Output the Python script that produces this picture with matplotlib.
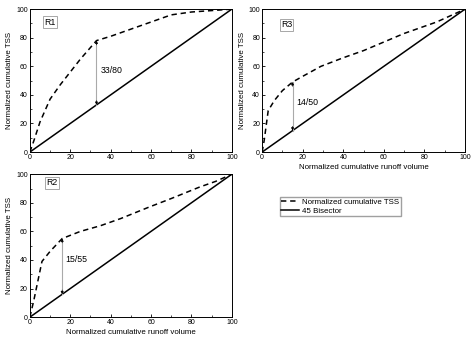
import matplotlib.pyplot as plt
from matplotlib.ticker import MultipleLocator

plt.rcParams['font.family'] = ['Liberation Sans', 'DejaVu Sans']

# R1
r1_x = [0, 2, 5, 10, 15, 20, 25, 33, 40, 50, 60, 70, 80, 90, 100]
r1_y = [0, 8, 21, 37, 47, 56, 65, 78, 81, 86, 91, 96, 98, 99, 100]
# R2
r2_x = [0, 2, 6, 10, 16, 25, 35, 45, 59, 70, 84, 92, 100]
r2_y = [0, 12, 39, 46, 55, 60, 64, 69, 77, 83, 91, 95, 100]
# R3
r3_x = [0, 1, 3, 6, 10, 15, 20, 29, 40, 50, 60, 70, 86, 100]
r3_y = [0, 8, 29, 36, 43, 49, 53, 60, 66, 71, 77, 83, 91, 100]

bisector = [0, 100]

panels = [
    ("R1", r1_x, r1_y, 33, 33, 78, "33/80", (10, 91), (35, 57), [0.063, 0.568, 0.426, 0.406], False),
    ("R3", r3_x, r3_y, 15, 15, 49, "14/50", (12, 89), (17, 35), [0.553, 0.568, 0.428, 0.406], True),
    ("R2", r2_x, r2_y, 16, 16, 55, "15/55", (11, 94), (17.5, 40), [0.063, 0.099, 0.426, 0.406], True),
]

fig = plt.figure(figsize=(4.74, 3.52), dpi=100)

for name, x, y, ax_x, y0, y1, lab, name_pos, lab_pos, rect, show_xlabel in panels:
    ax = fig.add_axes(rect)
    ln1, = ax.plot(x, y, color='black', linestyle=(0, (3.5, 2.5)), linewidth=1.1,
                   label='Normalized cumulative TSS')
    ln2, = ax.plot(bisector, bisector, color='black', linewidth=1.1, label='45 Bisector')
    ax.plot([ax_x, ax_x], [y0, y1], color='#aaaaaa', linewidth=0.8)
    ax.annotate('', xy=(ax_x, y1), xytext=(ax_x, y1 - 3),
                arrowprops=dict(arrowstyle='-|>', color='black', lw=0.5,
                                mutation_scale=4, shrinkA=0, shrinkB=0))
    ax.annotate('', xy=(ax_x, y0), xytext=(ax_x, y0 + 3),
                arrowprops=dict(arrowstyle='-|>', color='black', lw=0.5,
                                mutation_scale=4, shrinkA=0, shrinkB=0))
    ax.text(lab_pos[0], lab_pos[1], lab, fontsize=6.3, va='center', ha='left')
    ax.text(name_pos[0], name_pos[1], name, fontsize=6.3, va='center', ha='center',
            bbox=dict(boxstyle='square,pad=0.15', fc='white', ec='#999999', lw=0.6))
    ax.set_xlim(0, 100)
    ax.set_ylim(0, 100)
    ax.xaxis.set_major_locator(MultipleLocator(20))
    ax.yaxis.set_major_locator(MultipleLocator(20))
    ax.xaxis.set_minor_locator(MultipleLocator(10))
    ax.yaxis.set_minor_locator(MultipleLocator(10))
    ax.tick_params(which='both', direction='in', labelsize=5, pad=1.5)
    ax.tick_params(which='major', length=2.5, width=0.6)
    ax.tick_params(which='minor', length=1.5, width=0.5)
    for s in ax.spines.values():
        s.set_linewidth(0.7)
    ax.set_ylabel('Normalized cumulative TSS', fontsize=5.7, labelpad=2)
    if show_xlabel:
        ax.set_xlabel('Normalized cumulative runoff volume', fontsize=5.7, labelpad=2)

fig.legend(handles=[ln1, ln2], loc='upper left', bbox_to_anchor=(0.59, 0.44),
           fontsize=5.7, frameon=True, fancybox=False, edgecolor='#888888',
           handlelength=2.2, borderpad=0.2, labelspacing=0.1, handletextpad=0.4,
           borderaxespad=0)

plt.savefig('out.png', dpi=100)
